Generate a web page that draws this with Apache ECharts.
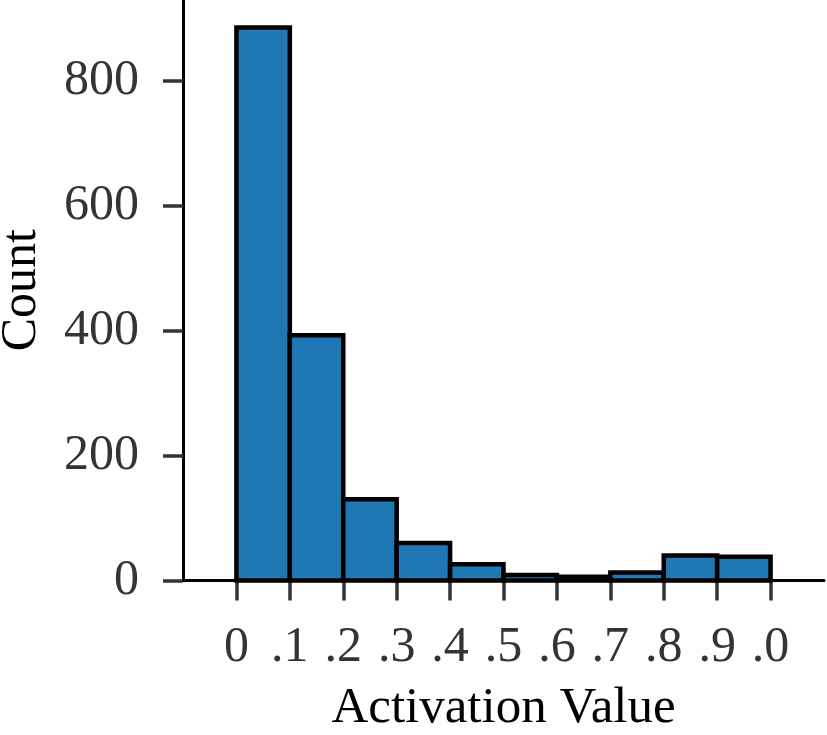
<!DOCTYPE html>
<html>
<head>
<meta charset="utf-8">
<script src="https://cdn.jsdelivr.net/npm/echarts@6/dist/echarts.min.js"></script>
<style>html,body{margin:0;padding:0;background:#fff}#c{width:827px;height:735px}</style>
</head>
<body>
<div id="c"></div>
<script>
const binStarts = [0.0, 0.1, 0.2, 0.3, 0.4, 0.5, 0.6, 0.7, 0.8, 0.9];
const binEnds   = [0.1, 0.2, 0.3, 0.4, 0.5, 0.6, 0.7, 0.8, 0.9, 1.0];
const counts    = [886, 393, 130, 60, 26, 9, 6, 13, 40, 38];
const xTickValues = [0, 0.1, 0.2, 0.3, 0.4, 0.5, 0.6, 0.7, 0.8, 0.9, 1.0];
const xTickLabels = ['0', '.1', '.2', '.3', '.4', '.5', '.6', '.7', '.8', '.9', '.0'];
const yTickValues = [0, 200, 400, 600, 800];
const yTickLabels = ['0', '200', '400', '600', '800'];

const FONT = "'Liberation Serif', 'DejaVu Serif', serif";
const chart = echarts.init(document.getElementById('c'), null, {renderer: 'canvas'});
const data = counts.map((c, i) => [binStarts[i], binEnds[i], c]);

chart.setOption({
  animation: false,
  backgroundColor: '#ffffff',
  grid: {left: 183, right: 3, top: 0, bottom: 154.5, containLabel: false, outerBoundsMode: 'none'},
  xAxis: {
    type: 'value', min: -0.1, max: 1.1,
    name: 'Activation Value', nameLocation: 'middle', nameGap: 103,
    nameTextStyle: {fontFamily: FONT, fontSize: 51, color: '#000'},
    axisLine: {show: true, onZero: false, lineStyle: {color: '#000', width: 3}},
    axisTick: {show: true, length: 20, customValues: xTickValues, lineStyle: {color: '#333338', width: 3.5}},
    axisLabel: {
      show: true, customValues: xTickValues, margin: 42,
      fontFamily: FONT, fontSize: 50, color: '#333338',
      formatter: v => { const i = xTickValues.findIndex(t => Math.abs(t - v) < 1e-9); return i >= 0 ? xTickLabels[i] : ''; }
    },
    splitLine: {show: false}
  },
  yAxis: {
    type: 'value', min: 0, max: 930,
    name: 'Count', nameLocation: 'middle', nameGap: 136,
    nameTextStyle: {fontFamily: FONT, fontSize: 50, color: '#000'},
    axisLine: {show: true, onZero: false, lineStyle: {color: '#000', width: 3}},
    axisTick: {show: true, length: 20, customValues: yTickValues, lineStyle: {color: '#333338', width: 3.5}},
    axisLabel: {
      show: true, customValues: yTickValues, margin: 44,
      fontFamily: FONT, fontSize: 50, color: '#333338',
      formatter: v => { const i = yTickValues.indexOf(v); return i >= 0 ? yTickLabels[i] : ''; }
    },
    splitLine: {show: false}
  },
  series: [{
    type: 'custom',
    data: data,
    encode: {x: [0, 1], y: 2},
    renderItem: function (params, api) {
      const p0 = api.coord([api.value(0), api.value(2)]);
      const p1 = api.coord([api.value(1), 0]);
      return {
        type: 'rect',
        shape: {x: p0[0], y: p0[1], width: p1[0] - p0[0], height: p1[1] - p0[1]},
        style: {fill: '#1f77b4', stroke: '#000', lineWidth: 4.5}
      };
    }
  }]
});
</script>
</body>
</html>
